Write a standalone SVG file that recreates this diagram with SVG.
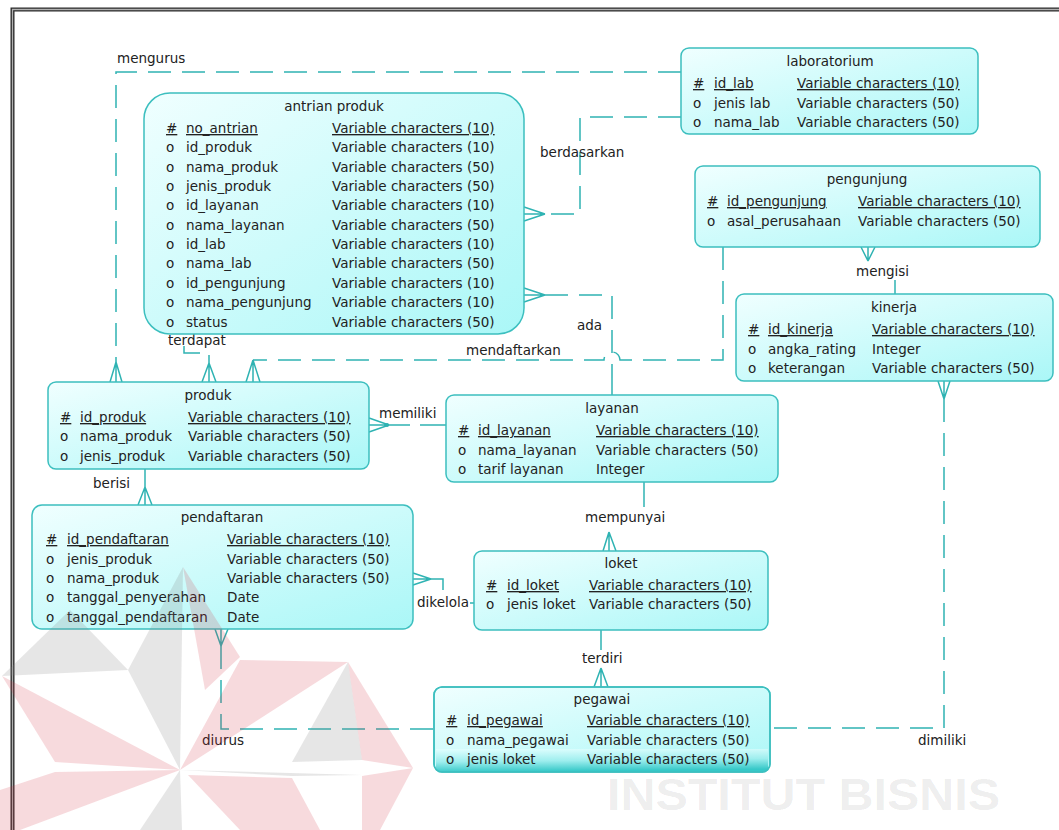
<svg xmlns="http://www.w3.org/2000/svg" width="1059" height="830" viewBox="0 0 1059 830">
<style>
.t{font-family:"DejaVu Sans","Liberation Sans",sans-serif;font-size:13.5px;fill:#222}
.m{text-anchor:middle}
.u{text-decoration:underline}
.box{fill:url(#fillg);stroke:#3cbfbf;stroke-width:1.5}
.c{fill:none;stroke:#2fb3b3;stroke-width:1.5}
.d{stroke-dasharray:23 11}
.wp{fill:#d23040;fill-opacity:0.18}
.wg{fill:#808080;fill-opacity:0.2}
</style>
<defs>
<linearGradient id="fillg" x1="0" y1="0" x2="1" y2="1">
<stop offset="0" stop-color="#f0ffff"/>
<stop offset="1" stop-color="#aaf7f7"/>
</linearGradient>
<linearGradient id="sel" x1="0" y1="0" x2="0.15" y2="1">
<stop offset="0" stop-color="#e2ffff"/>
<stop offset="0.55" stop-color="#9eeeee"/>
<stop offset="1" stop-color="#36c8c8"/>
</linearGradient>
<clipPath id="pegclip"><rect x="434" y="687" width="336" height="85" rx="8"/></clipPath>
</defs>
<rect width="1059" height="830" fill="#fff"/>
<!-- frame -->
<path d="M12.5,830 V9.5 H1059" fill="none" stroke="#2a2a2a" stroke-width="4"/>
<path d="M12.5,830 V9.5 H1059" fill="none" stroke="#b0b0b0" stroke-width="1.3"/>

<g id="connectors">
<!-- mengurus -->
<path class="c d" d="M681,72 H116 V362"/>
<path class="c" d="M116,362 L110,382 M116,362 V382 M116,362 L122,382"/>
<!-- terdapat -->
<path class="c d" d="M184,346 V353 H209 V363"/>
<path class="c" d="M209,363 L202,382 M209,363 V382 M209,363 L216,382"/>
<!-- mendaftarkan -->
<path class="c d" d="M723,247 V360 H620 A8,8 0 0 0 604,360 H253"/>
<path class="c" d="M253,360 L246,382 M253,360 V382 M253,360 L260,382"/>
<!-- berdasarkan -->
<path class="c d" d="M681,117 H580 V214 H545"/>
<path class="c" d="M545,214 L524,207 M545,214 H524 M545,214 L524,221"/>
<!-- ada -->
<path class="c d" d="M545,295 H612 V378"/>
<path class="c" d="M612,378 V395"/>
<path class="c" d="M545,295 L524,288 M545,295 H524 M545,295 L524,302"/>
<!-- memiliki -->
<path class="c" d="M389,425 H410 M420,425 H446"/>
<path class="c" d="M389,425 L369,418 M389,425 H369 M389,425 L369,432"/>
<circle cx="387" cy="425" r="2" fill="#2fb3b3"/>
<!-- berisi -->
<path class="c" d="M145,469 V487"/>
<path class="c" d="M145,487 L138,505 M145,487 V505 M145,487 L152,505"/>
<!-- dikelola -->
<path class="c" d="M431,579 H443 V590 M470,603 H474"/>
<path class="c" d="M431,579 L413,573 M431,579 H413 M431,579 L413,585"/>
<!-- mempunyai -->
<path class="c" d="M644,482 V507"/>
<path class="c" d="M609,532 L603,551 M609,532 V551 M609,532 L616,551"/>
<!-- terdiri -->
<path class="c" d="M601,630 V650"/>
<path class="c" d="M601,668 L594,687 M601,668 V687 M601,668 L608,687"/>
<!-- diurus -->
<path class="c d" d="M221,646 V729 H434"/>
<path class="c" d="M221,646 L215,629 M221,646 V629 M221,646 L228,629"/>
<!-- dimiliki -->
<path class="c d" d="M944,399 V728 H770"/>
<path class="c" d="M944,399 L938,381 M944,399 V381 M944,399 L950,381"/>
<!-- mengisi -->
<path class="c" d="M895,280 V294"/>
<path class="c" d="M868,261 L861,247 M868,261 V247 M868,261 L875,247"/>
<!-- labels -->
<text class="t" x="117" y="63">mengurus</text>
<text class="t" x="540" y="157">berdasarkan</text>
<text class="t" x="168" y="345">terdapat</text>
<text class="t" x="466" y="355">mendaftarkan</text>
<text class="t" x="577" y="330">ada</text>
<text class="t" x="856" y="276">mengisi</text>
<text class="t" x="379" y="418">memiliki</text>
<text class="t" x="93" y="488">berisi</text>
<text class="t" x="585" y="522">mempunyai</text>
<text class="t" x="417" y="607">dikelola</text>
<text class="t" x="582" y="663">terdiri</text>
<text class="t" x="202" y="745">diurus</text>
<text class="t" x="918" y="745">dimiliki</text>
</g>

<g id="n-antrian">
<rect class="box" x="144" y="93" width="380" height="241" rx="26"/>
<text class="t m" x="334" y="111">antrian produk</text>
<text class="t u" x="166" y="133">#</text><text class="t u" x="186" y="133">no_antrian</text><text class="t u" x="332" y="133">Variable characters (10)</text>
<text class="t" x="166" y="152">o</text><text class="t" x="186" y="152">id_produk</text><text class="t" x="332" y="152">Variable characters (10)</text>
<text class="t" x="166" y="172">o</text><text class="t" x="186" y="172">nama_produk</text><text class="t" x="332" y="172">Variable characters (50)</text>
<text class="t" x="166" y="191">o</text><text class="t" x="186" y="191">jenis_produk</text><text class="t" x="332" y="191">Variable characters (50)</text>
<text class="t" x="166" y="210">o</text><text class="t" x="186" y="210">id_layanan</text><text class="t" x="332" y="210">Variable characters (10)</text>
<text class="t" x="166" y="230">o</text><text class="t" x="186" y="230">nama_layanan</text><text class="t" x="332" y="230">Variable characters (50)</text>
<text class="t" x="166" y="249">o</text><text class="t" x="186" y="249">id_lab</text><text class="t" x="332" y="249">Variable characters (10)</text>
<text class="t" x="166" y="268">o</text><text class="t" x="186" y="268">nama_lab</text><text class="t" x="332" y="268">Variable characters (50)</text>
<text class="t" x="166" y="288">o</text><text class="t" x="186" y="288">id_pengunjung</text><text class="t" x="332" y="288">Variable characters (10)</text>
<text class="t" x="166" y="307">o</text><text class="t" x="186" y="307">nama_pengunjung</text><text class="t" x="332" y="307">Variable characters (10)</text>
<text class="t" x="166" y="327">o</text><text class="t" x="186" y="327">status</text><text class="t" x="332" y="327">Variable characters (50)</text>
</g>

<g id="n-laboratorium">
<rect class="box" x="681" y="48" width="297" height="86" rx="8"/>
<text class="t m" x="830" y="66">laboratorium</text>
<text class="t u" x="693" y="88">#</text><text class="t u" x="714" y="88">id_lab</text><text class="t u" x="797" y="88">Variable characters (10)</text>
<text class="t" x="693" y="108">o</text><text class="t" x="714" y="108">jenis lab</text><text class="t" x="797" y="108">Variable characters (50)</text>
<text class="t" x="693" y="127">o</text><text class="t" x="714" y="127">nama_lab</text><text class="t" x="797" y="127">Variable characters (50)</text>
</g>

<g id="n-pengunjung">
<rect class="box" x="695" y="166" width="345" height="81" rx="8"/>
<text class="t m" x="867" y="184">pengunjung</text>
<text class="t u" x="707" y="206">#</text><text class="t u" x="727" y="206">id_pengunjung</text><text class="t u" x="858" y="206">Variable characters (10)</text>
<text class="t" x="707" y="226">o</text><text class="t" x="727" y="226">asal_perusahaan</text><text class="t" x="858" y="226">Variable characters (50)</text>
</g>

<g id="n-kinerja">
<rect class="box" x="736" y="294" width="317" height="87" rx="8"/>
<text class="t m" x="894" y="312">kinerja</text>
<text class="t u" x="748" y="334">#</text><text class="t u" x="768" y="334">id_kinerja</text><text class="t u" x="872" y="334">Variable characters (10)</text>
<text class="t" x="748" y="354">o</text><text class="t" x="768" y="354">angka_rating</text><text class="t" x="872" y="354">Integer</text>
<text class="t" x="748" y="373">o</text><text class="t" x="768" y="373">keterangan</text><text class="t" x="872" y="373">Variable characters (50)</text>
</g>

<g id="n-produk">
<rect class="box" x="48" y="382" width="321" height="87" rx="8"/>
<text class="t m" x="208" y="400">produk</text>
<text class="t u" x="60" y="422">#</text><text class="t u" x="80" y="422">id_produk</text><text class="t u" x="188" y="422">Variable characters (10)</text>
<text class="t" x="60" y="441">o</text><text class="t" x="80" y="441">nama_produk</text><text class="t" x="188" y="441">Variable characters (50)</text>
<text class="t" x="60" y="461">o</text><text class="t" x="80" y="461">jenis_produk</text><text class="t" x="188" y="461">Variable characters (50)</text>
</g>

<g id="n-layanan">
<rect class="box" x="446" y="395" width="332" height="87" rx="8"/>
<text class="t m" x="612" y="413">layanan</text>
<text class="t u" x="458" y="435">#</text><text class="t u" x="478" y="435">id_layanan</text><text class="t u" x="596" y="435">Variable characters (10)</text>
<text class="t" x="458" y="455">o</text><text class="t" x="478" y="455">nama_layanan</text><text class="t" x="596" y="455">Variable characters (50)</text>
<text class="t" x="458" y="474">o</text><text class="t" x="478" y="474">tarif layanan</text><text class="t" x="596" y="474">Integer</text>
</g>

<g id="n-pendaftaran">
<rect class="box" x="32" y="505" width="381" height="124" rx="10"/>
<text class="t m" x="222" y="522">pendaftaran</text>
<text class="t u" x="46" y="544">#</text><text class="t u" x="67" y="544">id_pendaftaran</text><text class="t u" x="227" y="544">Variable characters (10)</text>
<text class="t" x="46" y="564">o</text><text class="t" x="67" y="564">jenis_produk</text><text class="t" x="227" y="564">Variable characters (50)</text>
<text class="t" x="46" y="583">o</text><text class="t" x="67" y="583">nama_produk</text><text class="t" x="227" y="583">Variable characters (50)</text>
<text class="t" x="46" y="602">o</text><text class="t" x="67" y="602">tanggal_penyerahan</text><text class="t" x="227" y="602">Date</text>
<text class="t" x="46" y="622">o</text><text class="t" x="67" y="622">tanggal_pendaftaran</text><text class="t" x="227" y="622">Date</text>
</g>

<g id="n-loket">
<rect class="box" x="474" y="551" width="294" height="79" rx="8"/>
<text class="t m" x="621" y="568">loket</text>
<text class="t u" x="486" y="590">#</text><text class="t u" x="507" y="590">id_loket</text><text class="t u" x="589" y="590">Variable characters (10)</text>
<text class="t" x="486" y="609">o</text><text class="t" x="507" y="609">jenis loket</text><text class="t" x="589" y="609">Variable characters (50)</text>
</g>

<g id="n-pegawai">
<rect class="box" x="434" y="687" width="336" height="85" rx="8"/>
<rect x="436" y="749" width="332" height="23" fill="url(#sel)" clip-path="url(#pegclip)"/>
<rect x="434" y="687" width="336" height="85" rx="8" fill="none" stroke="#3cbfbf" stroke-width="1.5"/>
<text class="t m" x="602" y="704">pegawai</text>
<text class="t u" x="446" y="725">#</text><text class="t u" x="467" y="725">id_pegawai</text><text class="t u" x="587" y="725">Variable characters (10)</text>
<text class="t" x="446" y="745">o</text><text class="t" x="467" y="745">nama_pegawai</text><text class="t" x="587" y="745">Variable characters (50)</text>
<text class="t" x="446" y="764">o</text><text class="t" x="467" y="764">jenis loket</text><text class="t" x="587" y="764">Variable characters (50)</text>
</g>

<g id="watermark">
<polygon class="wg" points="183,567 128,670 180,770"/>
<polygon class="wg" points="2,676 70,610 128,670"/>
<polygon class="wp" points="183,567 240,657 205,690"/>
<polygon class="wp" points="240,660 348,662 180,770"/>
<polygon class="wp" points="2,676 55,762 180,770"/>
<polygon class="wg" points="348,662 292,762 362,760"/>
<polygon class="wp" points="348,662 413,768 362,760"/>
<polygon class="wp" points="55,772 180,770 20,830 0,830 0,790"/>
<polygon class="wp" points="188,775 292,778 320,830 240,830"/>
<polygon class="wg" points="180,770 292,776 362,775"/>
<polygon class="wp" points="413,768 362,776 362,830 380,830"/>
<polygon class="wg" points="180,770 140,830 182,830"/>
<text x="607" y="810" textLength="393" lengthAdjust="spacingAndGlyphs" style="font-family:'Liberation Sans',Arial,sans-serif;font-weight:bold;font-size:44px;fill:#000;fill-opacity:0.08">INSTITUT BISNIS</text>
</g>
</svg>
